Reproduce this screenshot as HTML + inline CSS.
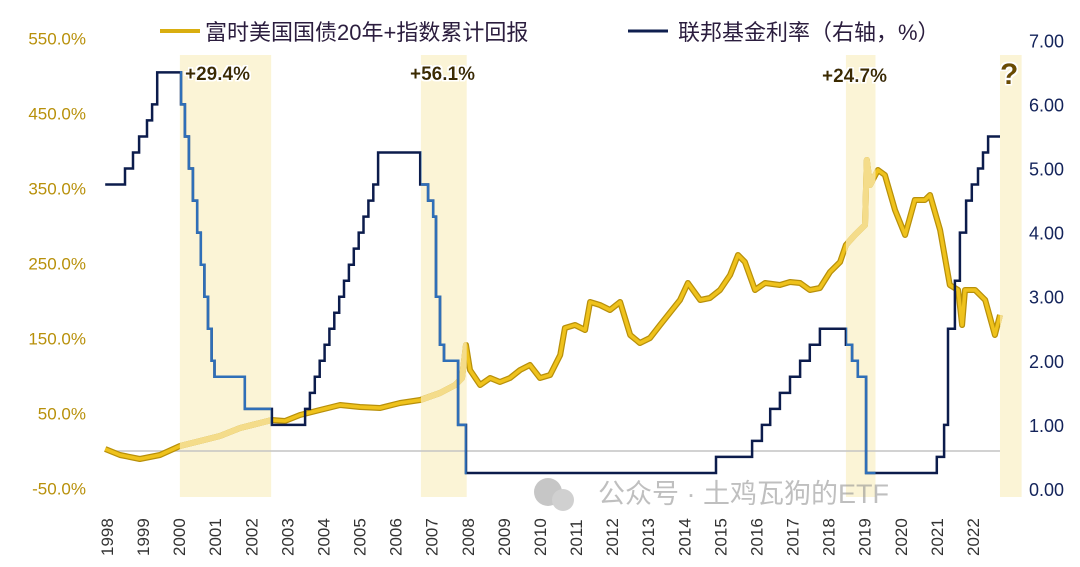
<!DOCTYPE html>
<html><head><meta charset="utf-8"><style>
body{margin:0;background:#fff;}
svg text{font-family:"Liberation Sans","Noto Sans CJK SC",sans-serif;}
</style></head><body>
<svg id="chart" width="1080" height="562" viewBox="0 0 1080 562" xmlns="http://www.w3.org/2000/svg">
<defs><clipPath id="shadeClip"></clipPath>
<filter id="glow"><feMorphology operator="dilate" radius="1.5" in="SourceAlpha" result="d"/><feFlood flood-color="#fff"/><feComposite in2="d" operator="in"/><feMerge><feMergeNode/><feMergeNode in="SourceGraphic"/></feMerge></filter></defs>
<g id="shades"></g>
<line x1="105" x2="1000" y1="451" y2="451" stroke="#c4c4c4" stroke-width="1.5"/>
<g id="marks"></g>
<g id="axes"></g>
<g>
<line x1="160" x2="200" y1="31" y2="31" stroke="#d9ae10" stroke-width="4"/>
<text x="205" y="40" font-size="22" fill="#2b1d3e">富时美国国债20年+指数累计回报</text>
<line x1="628" x2="668" y1="31" y2="31" stroke="#0f1f4f" stroke-width="3"/>
<text x="678" y="40" font-size="22" fill="#2b1d3e">联邦基金利率（右轴，%）</text>
</g>
<g font-weight="bold" font-size="19" fill="#3a2a05" filter="url(#glow)">
<text x="185" y="80">+29.4%</text>
<text x="410" y="80">+56.1%</text>
<text x="822" y="82">+24.7%</text>
<text x="1000" y="84" font-size="30" fill="#6b4c05">?</text>
</g>
<g opacity="0.55">
<circle cx="548" cy="492" r="14" fill="#999"/><circle cx="563" cy="500" r="11" fill="#aaa"/>
<text x="598" y="503" font-size="27" fill="#8c8c8c">公众号 · 土鸡瓦狗的ETF</text>
</g>
</svg>
<script>
const yearTicks=[1998,1999,2000,2001,2002,2003,2004,2005,2006,2007,2008,2009,2010,2011,2012,2013,2014,2015,2016,2017,2018,2019,2020,2021,2022];
const leftTicks=[550,450,350,250,150,50,-50];
const rightTicks=[7,6,5,4,3,2,1,0];
const shadeStart=[2000.02,2006.7,2018.48,2022.75];
const shadeEnd=[2002.55,2007.97,2019.3,2023.35];
const bondYears=[1997.95,1998.36,1998.91,1999.47,2000.02,2000.58,2001.13,2001.69,2002.24,2002.57,2002.93,2003.35,2003.9,2004.46,2005.01,2005.57,2006.12,2006.68,2007.23,2007.65,2007.84,2007.95,2008.06,2008.34,2008.62,2008.89,2009.17,2009.45,2009.72,2010.0,2010.28,2010.56,2010.69,2010.97,2011.25,2011.39,2011.66,2011.94,2012.22,2012.5,2012.77,2013.05,2013.33,2013.88,2014.1,2014.44,2014.71,2014.99,2015.27,2015.49,2015.68,2015.96,2016.24,2016.65,2016.93,2017.21,2017.48,2017.76,2018.04,2018.32,2018.48,2018.73,2019.01,2019.06,2019.15,2019.37,2019.56,2019.84,2020.12,2020.39,2020.67,2020.81,2021.09,2021.36,2021.59,2021.7,2021.78,2022.06,2022.34,2022.61,2022.75];
const bondValues=[2.7,-5.3,-10.7,-5.3,6.7,13.3,20,30.7,37.3,41.3,40,48,54.7,61.3,58.7,57.3,64,68,77.3,88,97.3,141.3,108,88,97.3,92,97.3,108,114.7,97.3,101.3,128,164,168,161.3,198.7,194.7,188,198.7,154.7,144,150.7,168,201.3,224,201.3,204,214.7,234.7,261.3,252,214.7,224,221.3,225.3,224,214.7,217.3,238.7,252,274.7,288,301.3,388,354.7,374.7,368,321.3,288,334.7,334.7,341.3,294.7,221.3,214.7,168,214.7,214.7,201.3,154.7,181.3];
const fedYears=[1997.95,1998.5,1998.72,1998.89,1999.11,1999.25,1999.39,2000.05,2000.16,2000.27,2000.38,2000.5,2000.6,2000.7,2000.8,2000.9,2000.98,2001.82,2002.57,2003.49,2003.625,2003.76,2003.895,2004.03,2004.165,2004.3,2004.435,2004.57,2004.705,2004.84,2004.975,2005.11,2005.245,2005.38,2005.515,2006.68,2006.9,2007.04,2007.12,2007.23,2007.34,2007.73,2007.95,2014.88,2015.88,2016.15,2016.38,2016.65,2016.93,2017.21,2017.48,2017.76,2018.48,2018.65,2018.81,2019.04,2021.0,2021.2,2021.31,2021.5,2021.64,2021.81,2021.97,2022.14,2022.28,2022.42];
const fedValues=[4.75,5.0,5.25,5.5,5.75,6.0,6.5,6.0,5.5,5.0,4.5,4.0,3.5,3.0,2.5,2.0,1.75,1.25,1.0,1.25,1.5,1.75,2.0,2.25,2.5,2.75,3.0,3.25,3.5,3.75,4.0,4.25,4.5,4.75,5.25,4.75,4.5,4.25,3.0,2.25,2.0,1.0,0.25,0.5,0.75,1.0,1.25,1.5,1.75,2.0,2.25,2.5,2.25,2.0,1.75,0.25,0.5,1.0,2.5,3.25,4.0,4.5,4.75,5.0,5.25,5.5];
const endYear=2022.75;
const NS='http://www.w3.org/2000/svg';
const X=y=>107+(y-1998)*36.08;
const YL=v=>451-v*0.75;
const YR=v=>489-v*64.1;
function mk(t,a,p){const e=document.createElementNS(NS,t);for(const k in a)e.setAttribute(k,a[k]);(p||document.getElementById('marks')).appendChild(e);return e;}
const shades=document.getElementById('shades'),clip=document.getElementById('shadeClip');
for(let i=0;i<shadeStart.length;i++){
 const r=mk('rect',{x:X(shadeStart[i]),y:55,width:X(shadeEnd[i])-X(shadeStart[i]),height:442,fill:'#fbf4d6'},shades);
 
 
 mk('rect',{x:X(shadeStart[i]),y:0,width:X(shadeEnd[i])-X(shadeStart[i]),height:562},clip);
}
let bd='';bondYears.forEach((y,i)=>{bd+=(i?'L':'M')+X(y).toFixed(1)+' '+YL(bondValues[i]).toFixed(1);});
let fd='';fedYears.forEach((y,i)=>{const yy=YR(fedValues[i]).toFixed(1);if(i)fd+='H'+X(y).toFixed(1)+'V'+yy;else fd='M'+X(y).toFixed(1)+' '+yy;});
fd+='H'+X(endYear).toFixed(1);
const b1=mk('path',{d:bd,fill:'none',stroke:'#b8900a','stroke-width':6,'stroke-linejoin':'round'});


mk('path',{d:bd,fill:'none',stroke:'#efc21c','stroke-width':3.5,'stroke-linejoin':'round'});
mk('path',{d:bd,fill:'none',stroke:'#f4dc8a','stroke-width':6,'stroke-linejoin':'round','clip-path':'url(#shadeClip)'});
const f1=mk('path',{d:fd,fill:'none',stroke:'#0c1c4c','stroke-width':2.5});


mk('path',{d:fd,fill:'none',stroke:'#2f6fb8','stroke-width':2.5,'clip-path':'url(#shadeClip)'});
const axes=document.getElementById('axes');
leftTicks.forEach(v=>{const t=mk('text',{x:86,y:YL(v)+6,'text-anchor':'end','font-size':17,fill:'#b8900a'},axes);t.textContent=v.toFixed(1)+'%';
 
 });
rightTicks.forEach(v=>{const t=mk('text',{x:1029,y:YR(v)+7,'font-size':18,fill:'#13235a'},axes);t.textContent=v.toFixed(2);
 
 });
yearTicks.forEach(y=>{const x=X(y);const t=mk('text',{x:0,y:0,transform:`translate(${x+6},556) rotate(-90)`,'font-size':17,fill:'#333'},axes);t.textContent=y;
 
 });
</script>
</body></html>
